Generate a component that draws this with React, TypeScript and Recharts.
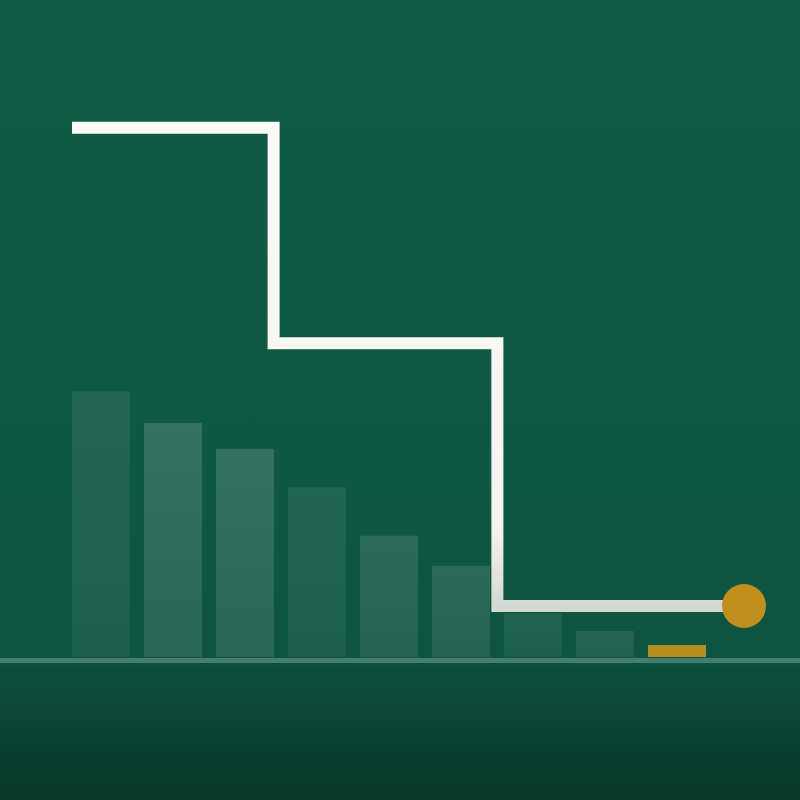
import React from "react";
import {
  ComposedChart,
  Bar,
  Line,
  Cell,
  XAxis,
  YAxis,
  ReferenceLine,
} from "recharts";

// bar series (values on a 0-100 scale)
const CATEGORIES = ["1", "2", "3", "4", "5", "6", "7", "8", "9"];
const BAR_VALUES = [44.3, 39, 34.7, 28.3, 20.2, 15.2, 7.3, 4.3, 2];
const BAR_OPACITY = [0.08, 0.15, 0.15, 0.08, 0.12, 0.12, 0.08, 0.1, 1];

// step line (x on its own 0-100 axis)
const STEP_X = [0, 30, 63.3, 100];
const STEP_Y = [88.2, 52.3, 8.5, 8.5];

const GOLD = "#c0901f";

const barData = CATEGORIES.map((name, i) => ({ name, value: BAR_VALUES[i] }));
const lineData = STEP_X.map((t, i) => ({ t, y: STEP_Y[i] }));

const EndDot = (props: any) => {
  const { cx, cy, index } = props;
  if (index !== lineData.length - 1) return <g key={index} />;
  return <circle key={index} cx={cx} cy={cy} r={22} fill={GOLD} />;
};

export default function App() {
  return (
    <div
      style={{
        position: "absolute",
        left: 0,
        top: 0,
        width: 800,
        height: 800,
        background:
          "linear-gradient(180deg, #115c47 0%, #0f5843 60%, #0e5441 82%, #0c4d3b 84%, #0b4535 90%, #093c2d 96%, #083828 100%)",
      }}
    >
      <ComposedChart
        width={800}
        height={800}
        data={barData}
        margin={{ top: 57, right: 0, bottom: 143, left: 0 }}
        barCategoryGap={0}
      >
        <defs>
          <linearGradient id="barFade" x1="0" y1="0" x2="0" y2="1">
            <stop offset="0%" stopColor="#ffffff" stopOpacity={1} />
            <stop offset="100%" stopColor="#ffffff" stopOpacity={0.75} />
          </linearGradient>
          <linearGradient id="lineFade" x1="0" y1="0" x2="0" y2="1">
            <stop offset="0%" stopColor="#fbfbf5" />
            <stop offset="84%" stopColor="#f4f4ef" />
            <stop offset="100%" stopColor="#d5d7d2" />
          </linearGradient>
        </defs>
        <XAxis
          xAxisId="cat"
          dataKey="name"
          type="category"
          hide
          padding={{ left: 65, right: 87 }}
        />
        <XAxis
          xAxisId="t"
          dataKey="t"
          type="number"
          domain={[0, 100]}
          hide
          padding={{ left: 72, right: 56 }}
        />
        <YAxis type="number" domain={[0, 100]} hide />
        <ReferenceLine
          xAxisId="cat"
          y={-0.6}
          stroke="#457d6c"
          strokeWidth={5}
          ifOverflow="visible"
        />
        <Bar
          xAxisId="cat"
          dataKey="value"
          barSize={58}
          isAnimationActive={false}
        >
          {barData.map((_, i) =>
            i === barData.length - 1 ? (
              <Cell key={i} fill={GOLD} fillOpacity={0.95} />
            ) : (
              <Cell key={i} fill="url(#barFade)" fillOpacity={BAR_OPACITY[i]} />
            )
          )}
        </Bar>
        <Line
          xAxisId="t"
          data={lineData}
          dataKey="y"
          type="stepAfter"
          stroke="url(#lineFade)"
          strokeWidth={12}
          strokeLinecap="butt"
          strokeLinejoin="miter"
          dot={EndDot}
          activeDot={false}
          isAnimationActive={false}
        />
      </ComposedChart>
    </div>
  );
}
